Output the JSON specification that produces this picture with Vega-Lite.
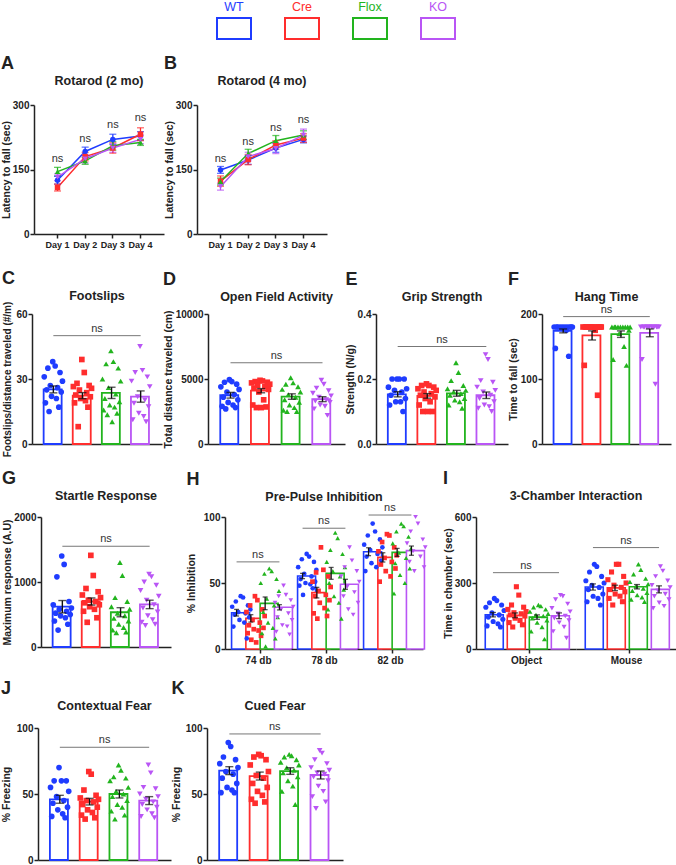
{
"$schema": "https://vega.github.io/schema/vega-lite/v6.json",
"padding": 0,
"background": "white",
"config": {
 "view": {"stroke": null},
 "font": "Liberation Sans",
 "axis": {"domainColor":"#222","domainWidth":1.5,"tickColor":"#222","tickWidth":1.5,"tickSize":4,"labelFont":"Liberation Sans","labelFontSize":10,"labelFontWeight":"bold","labelColor":"#222","labelPadding":1,"labelFlush":false,"titleFont":"Liberation Sans","titleFontSize":10.5,"titleFontWeight":"bold","titleColor":"#222","titlePadding":1,"grid":false},
 "title": {"font":"Liberation Sans","fontSize":12.5,"fontWeight":"bold","color":"#222"}
},
"datasets": {
 "st": [
  {"p":"A","d":"Day 1","g":"WT","m":125,"e":9},{"p":"A","d":"Day 2","g":"WT","m":192,"e":10},{"p":"A","d":"Day 3","g":"WT","m":220,"e":12},{"p":"A","d":"Day 4","g":"WT","m":228,"e":10},
  {"p":"A","d":"Day 1","g":"Cre","m":108,"e":8},{"p":"A","d":"Day 2","g":"Cre","m":180,"e":10},{"p":"A","d":"Day 3","g":"Cre","m":200,"e":12},{"p":"A","d":"Day 4","g":"Cre","m":232,"e":15},
  {"p":"A","d":"Day 1","g":"Flox","m":145,"e":10},{"p":"A","d":"Day 2","g":"Flox","m":170,"e":8},{"p":"A","d":"Day 3","g":"Flox","m":205,"e":10},{"p":"A","d":"Day 4","g":"Flox","m":213,"e":7},
  {"p":"A","d":"Day 1","g":"KO","m":132,"e":8},{"p":"A","d":"Day 2","g":"KO","m":175,"e":10},{"p":"A","d":"Day 3","g":"KO","m":200,"e":10},{"p":"A","d":"Day 4","g":"KO","m":220,"e":10},
  {"p":"B","d":"Day 1","g":"WT","m":149,"e":8},{"p":"B","d":"Day 2","g":"WT","m":172,"e":10},{"p":"B","d":"Day 3","g":"WT","m":200,"e":10},{"p":"B","d":"Day 4","g":"WT","m":220,"e":8},
  {"p":"B","d":"Day 1","g":"Cre","m":123,"e":12},{"p":"B","d":"Day 2","g":"Cre","m":173,"e":12},{"p":"B","d":"Day 3","g":"Cre","m":207,"e":10},{"p":"B","d":"Day 4","g":"Cre","m":223,"e":10},
  {"p":"B","d":"Day 1","g":"Flox","m":122,"e":8},{"p":"B","d":"Day 2","g":"Flox","m":187,"e":10},{"p":"B","d":"Day 3","g":"Flox","m":217,"e":12},{"p":"B","d":"Day 4","g":"Flox","m":230,"e":10},
  {"p":"B","d":"Day 1","g":"KO","m":110,"e":8},{"p":"B","d":"Day 2","g":"KO","m":180,"e":10},{"p":"B","d":"Day 3","g":"KO","m":199,"e":12},{"p":"B","d":"Day 4","g":"KO","m":230,"e":14},
  {"p":"C","g":"WT","m":25.2,"e":1.6},{"p":"C","g":"Cre","m":22.3,"e":1.4},{"p":"C","g":"Flox","m":23.6,"e":2.6},{"p":"C","g":"KO","m":21.9,"e":2.6},
  {"p":"D","g":"WT","m":3750,"e":220},{"p":"D","g":"Cre","m":4100,"e":160},{"p":"D","g":"Flox","m":3650,"e":210},{"p":"D","g":"KO","m":3450,"e":190},
  {"p":"E","g":"WT","m":0.153,"e":0.008},{"p":"E","g":"Cre","m":0.148,"e":0.007},{"p":"E","g":"Flox","m":0.156,"e":0.009},{"p":"E","g":"KO","m":0.150,"e":0.010},
  {"p":"F","g":"WT","m":174,"e":3},{"p":"F","g":"Cre","m":167,"e":7},{"p":"F","g":"Flox","m":169,"e":5},{"p":"F","g":"KO","m":171,"e":6},
  {"p":"G","g":"WT","m":620,"e":95},{"p":"G","g":"Cre","m":700,"e":55},{"p":"G","g":"Flox","m":535,"e":70},{"p":"G","g":"KO","m":655,"e":65},
  {"p":"H74","g":"WT","m":27.5,"e":2.5},{"p":"H74","g":"Cre","m":23.2,"e":2.8},{"p":"H74","g":"Flox","m":34.6,"e":4.8},{"p":"H74","g":"KO","m":31.6,"e":2.0},
  {"p":"H78","g":"WT","m":55.3,"e":2.0},{"p":"H78","g":"Cre","m":42.7,"e":4.0},{"p":"H78","g":"Flox","m":57.3,"e":4.5},{"p":"H78","g":"KO","m":49,"e":3.8},
  {"p":"H82","g":"WT","m":73.7,"e":3},{"p":"H82","g":"Cre","m":69.4,"e":3.5},{"p":"H82","g":"Flox","m":73.2,"e":3},{"p":"H82","g":"KO","m":74.5,"e":3.5},
  {"p":"IO","g":"WT","m":156,"e":10},{"p":"IO","g":"Cre","m":153,"e":11},{"p":"IO","g":"Flox","m":145,"e":10},{"p":"IO","g":"KO","m":151,"e":13},
  {"p":"IM","g":"WT","m":282,"e":14},{"p":"IM","g":"Cre","m":278,"e":12},{"p":"IM","g":"Flox","m":283,"e":10},{"p":"IM","g":"KO","m":271,"e":16},
  {"p":"J","g":"WT","m":46,"e":3},{"p":"J","g":"Cre","m":44.2,"e":2.5},{"p":"J","g":"Flox","m":50,"e":3},{"p":"J","g":"KO","m":45,"e":3},
  {"p":"K","g":"WT","m":67.7,"e":3},{"p":"K","g":"Cre","m":63.6,"e":3},{"p":"K","g":"Flox","m":67.4,"e":2.5},{"p":"K","g":"KO","m":64.4,"e":3}
 ],
 "ns": [
  {"p":"A","d":"Day 1","y":175},{"p":"A","d":"Day 2","y":222},{"p":"A","d":"Day 3","y":253},{"p":"A","d":"Day 4","y":270},
  {"p":"B","d":"Day 1","y":174},{"p":"B","d":"Day 2","y":213},{"p":"B","d":"Day 3","y":246},{"p":"B","d":"Day 4","y":266},
  {"p":"C","y":50},{"p":"D","y":6250},{"p":"E","y":0.30},{"p":"F","y":196},{"p":"G","y":1550},
  {"p":"H74","y":66},{"p":"H78","y":91.5},{"p":"H82","y":101.5},{"p":"IO","y":347},{"p":"IM","y":461},
  {"p":"J","y":85.4},{"p":"K","y":95.5}
 ],
 "pts": [
  {"p":"C","g":"WT","i":1,"v":38},{"p":"C","g":"WT","i":2,"v":36},{"p":"C","g":"WT","i":3,"v":35},{"p":"C","g":"WT","i":4,"v":33},{"p":"C","g":"WT","i":5,"v":31},{"p":"C","g":"WT","i":6,"v":29},{"p":"C","g":"WT","i":7,"v":27},{"p":"C","g":"WT","i":8,"v":26},{"p":"C","g":"WT","i":9,"v":25},{"p":"C","g":"WT","i":10,"v":24},{"p":"C","g":"WT","i":11,"v":22},{"p":"C","g":"WT","i":12,"v":21},{"p":"C","g":"WT","i":13,"v":19},{"p":"C","g":"WT","i":14,"v":17},{"p":"C","g":"WT","i":15,"v":15},
  {"p":"C","g":"Cre","i":1,"v":39},{"p":"C","g":"Cre","i":2,"v":33},{"p":"C","g":"Cre","i":3,"v":28},{"p":"C","g":"Cre","i":4,"v":27},{"p":"C","g":"Cre","i":5,"v":26.5},{"p":"C","g":"Cre","i":6,"v":25.7},{"p":"C","g":"Cre","i":7,"v":24.9},{"p":"C","g":"Cre","i":8,"v":23.7},{"p":"C","g":"Cre","i":9,"v":22.6},{"p":"C","g":"Cre","i":10,"v":21.8},{"p":"C","g":"Cre","i":11,"v":21},{"p":"C","g":"Cre","i":12,"v":20},{"p":"C","g":"Cre","i":13,"v":19},{"p":"C","g":"Cre","i":14,"v":17},{"p":"C","g":"Cre","i":15,"v":8},
  {"p":"C","g":"Flox","i":1,"v":43},{"p":"C","g":"Flox","i":2,"v":38},{"p":"C","g":"Flox","i":3,"v":37},{"p":"C","g":"Flox","i":4,"v":35},{"p":"C","g":"Flox","i":5,"v":30},{"p":"C","g":"Flox","i":6,"v":29},{"p":"C","g":"Flox","i":7,"v":26},{"p":"C","g":"Flox","i":8,"v":23},{"p":"C","g":"Flox","i":9,"v":21},{"p":"C","g":"Flox","i":10,"v":19.5},{"p":"C","g":"Flox","i":11,"v":18},{"p":"C","g":"Flox","i":12,"v":17},{"p":"C","g":"Flox","i":13,"v":15.7},{"p":"C","g":"Flox","i":14,"v":14.2},{"p":"C","g":"Flox","i":15,"v":13.5},{"p":"C","g":"Flox","i":16,"v":10.3},
  {"p":"C","g":"KO","i":1,"v":45},{"p":"C","g":"KO","i":2,"v":34},{"p":"C","g":"KO","i":3,"v":33},{"p":"C","g":"KO","i":4,"v":31},{"p":"C","g":"KO","i":5,"v":29},{"p":"C","g":"KO","i":6,"v":26.5},{"p":"C","g":"KO","i":7,"v":21.8},{"p":"C","g":"KO","i":8,"v":20.3},{"p":"C","g":"KO","i":9,"v":18.8},{"p":"C","g":"KO","i":10,"v":17.2},{"p":"C","g":"KO","i":11,"v":14.2},{"p":"C","g":"KO","i":12,"v":12.7},{"p":"C","g":"KO","i":13,"v":11.2},{"p":"C","g":"KO","i":14,"v":10.3},
  {"p":"D","g":"WT","i":1,"v":4950},{"p":"D","g":"WT","i":2,"v":4800},{"p":"D","g":"WT","i":3,"v":4750},{"p":"D","g":"WT","i":4,"v":4600},{"p":"D","g":"WT","i":5,"v":4400},{"p":"D","g":"WT","i":6,"v":4200},{"p":"D","g":"WT","i":7,"v":4000},{"p":"D","g":"WT","i":8,"v":3800},{"p":"D","g":"WT","i":9,"v":3600},{"p":"D","g":"WT","i":10,"v":3400},{"p":"D","g":"WT","i":11,"v":3200},{"p":"D","g":"WT","i":12,"v":3000},{"p":"D","g":"WT","i":13,"v":2900},{"p":"D","g":"WT","i":14,"v":2800},{"p":"D","g":"WT","i":15,"v":2700},
  {"p":"D","g":"Cre","i":1,"v":4900},{"p":"D","g":"Cre","i":2,"v":4850},{"p":"D","g":"Cre","i":3,"v":4800},{"p":"D","g":"Cre","i":4,"v":4750},{"p":"D","g":"Cre","i":5,"v":4700},{"p":"D","g":"Cre","i":6,"v":4600},{"p":"D","g":"Cre","i":7,"v":4500},{"p":"D","g":"Cre","i":8,"v":4400},{"p":"D","g":"Cre","i":9,"v":4300},{"p":"D","g":"Cre","i":10,"v":4200},{"p":"D","g":"Cre","i":11,"v":4000},{"p":"D","g":"Cre","i":12,"v":3400},{"p":"D","g":"Cre","i":13,"v":3000},{"p":"D","g":"Cre","i":14,"v":2850},{"p":"D","g":"Cre","i":15,"v":2800},{"p":"D","g":"Cre","i":16,"v":2800},
  {"p":"D","g":"Flox","i":1,"v":5100},{"p":"D","g":"Flox","i":2,"v":4700},{"p":"D","g":"Flox","i":3,"v":4600},{"p":"D","g":"Flox","i":4,"v":4400},{"p":"D","g":"Flox","i":5,"v":4200},{"p":"D","g":"Flox","i":6,"v":4000},{"p":"D","g":"Flox","i":7,"v":3800},{"p":"D","g":"Flox","i":8,"v":3600},{"p":"D","g":"Flox","i":9,"v":3400},{"p":"D","g":"Flox","i":10,"v":3200},{"p":"D","g":"Flox","i":11,"v":3000},{"p":"D","g":"Flox","i":12,"v":2800},{"p":"D","g":"Flox","i":13,"v":2600},{"p":"D","g":"Flox","i":14,"v":2500},{"p":"D","g":"Flox","i":15,"v":2500},
  {"p":"D","g":"KO","i":1,"v":4900},{"p":"D","g":"KO","i":2,"v":4600},{"p":"D","g":"KO","i":3,"v":4300},{"p":"D","g":"KO","i":4,"v":4100},{"p":"D","g":"KO","i":5,"v":3900},{"p":"D","g":"KO","i":6,"v":3700},{"p":"D","g":"KO","i":7,"v":3600},{"p":"D","g":"KO","i":8,"v":3400},{"p":"D","g":"KO","i":9,"v":3300},{"p":"D","g":"KO","i":10,"v":3200},{"p":"D","g":"KO","i":11,"v":3000},{"p":"D","g":"KO","i":12,"v":2900},{"p":"D","g":"KO","i":13,"v":2700},{"p":"D","g":"KO","i":14,"v":2200},
  {"p":"E","g":"WT","i":1,"v":0.2},{"p":"E","g":"WT","i":2,"v":0.2},{"p":"E","g":"WT","i":3,"v":0.2},{"p":"E","g":"WT","i":4,"v":0.2},{"p":"E","g":"WT","i":5,"v":0.175},{"p":"E","g":"WT","i":6,"v":0.17},{"p":"E","g":"WT","i":7,"v":0.165},{"p":"E","g":"WT","i":8,"v":0.16},{"p":"E","g":"WT","i":9,"v":0.15},{"p":"E","g":"WT","i":10,"v":0.14},{"p":"E","g":"WT","i":11,"v":0.13},{"p":"E","g":"WT","i":12,"v":0.13},{"p":"E","g":"WT","i":13,"v":0.12},{"p":"E","g":"WT","i":14,"v":0.1},
  {"p":"E","g":"Cre","i":1,"v":0.185},{"p":"E","g":"Cre","i":2,"v":0.18},{"p":"E","g":"Cre","i":3,"v":0.18},{"p":"E","g":"Cre","i":4,"v":0.175},{"p":"E","g":"Cre","i":5,"v":0.17},{"p":"E","g":"Cre","i":6,"v":0.165},{"p":"E","g":"Cre","i":7,"v":0.16},{"p":"E","g":"Cre","i":8,"v":0.155},{"p":"E","g":"Cre","i":9,"v":0.15},{"p":"E","g":"Cre","i":10,"v":0.145},{"p":"E","g":"Cre","i":11,"v":0.14},{"p":"E","g":"Cre","i":12,"v":0.13},{"p":"E","g":"Cre","i":13,"v":0.12},{"p":"E","g":"Cre","i":14,"v":0.1},{"p":"E","g":"Cre","i":15,"v":0.1},{"p":"E","g":"Cre","i":16,"v":0.1},
  {"p":"E","g":"Flox","i":1,"v":0.25},{"p":"E","g":"Flox","i":2,"v":0.22},{"p":"E","g":"Flox","i":3,"v":0.195},{"p":"E","g":"Flox","i":4,"v":0.18},{"p":"E","g":"Flox","i":5,"v":0.17},{"p":"E","g":"Flox","i":6,"v":0.165},{"p":"E","g":"Flox","i":7,"v":0.16},{"p":"E","g":"Flox","i":8,"v":0.155},{"p":"E","g":"Flox","i":9,"v":0.15},{"p":"E","g":"Flox","i":10,"v":0.14},{"p":"E","g":"Flox","i":11,"v":0.135},{"p":"E","g":"Flox","i":12,"v":0.13},{"p":"E","g":"Flox","i":13,"v":0.12},{"p":"E","g":"Flox","i":14,"v":0.11},
  {"p":"E","g":"KO","i":1,"v":0.275},{"p":"E","g":"KO","i":2,"v":0.26},{"p":"E","g":"KO","i":3,"v":0.195},{"p":"E","g":"KO","i":4,"v":0.19},{"p":"E","g":"KO","i":5,"v":0.175},{"p":"E","g":"KO","i":6,"v":0.165},{"p":"E","g":"KO","i":7,"v":0.16},{"p":"E","g":"KO","i":8,"v":0.15},{"p":"E","g":"KO","i":9,"v":0.14},{"p":"E","g":"KO","i":10,"v":0.13},{"p":"E","g":"KO","i":11,"v":0.12},{"p":"E","g":"KO","i":12,"v":0.115},{"p":"E","g":"KO","i":13,"v":0.11},{"p":"E","g":"KO","i":14,"v":0.1},
  {"p":"F","g":"WT","i":1,"v":180},{"p":"F","g":"WT","i":2,"v":180},{"p":"F","g":"WT","i":3,"v":180},{"p":"F","g":"WT","i":4,"v":180},{"p":"F","g":"WT","i":5,"v":180},{"p":"F","g":"WT","i":6,"v":180},{"p":"F","g":"WT","i":7,"v":180},{"p":"F","g":"WT","i":8,"v":180},{"p":"F","g":"WT","i":9,"v":180},{"p":"F","g":"WT","i":10,"v":180},{"p":"F","g":"WT","i":11,"v":178},{"p":"F","g":"WT","i":12,"v":175},{"p":"F","g":"WT","i":13,"v":147},{"p":"F","g":"WT","i":14,"v":135},
  {"p":"F","g":"Cre","i":1,"v":180},{"p":"F","g":"Cre","i":2,"v":180},{"p":"F","g":"Cre","i":3,"v":180},{"p":"F","g":"Cre","i":4,"v":180},{"p":"F","g":"Cre","i":5,"v":180},{"p":"F","g":"Cre","i":6,"v":180},{"p":"F","g":"Cre","i":7,"v":180},{"p":"F","g":"Cre","i":8,"v":180},{"p":"F","g":"Cre","i":9,"v":180},{"p":"F","g":"Cre","i":10,"v":180},{"p":"F","g":"Cre","i":11,"v":180},{"p":"F","g":"Cre","i":12,"v":175},{"p":"F","g":"Cre","i":13,"v":121},{"p":"F","g":"Cre","i":14,"v":75},
  {"p":"F","g":"Flox","i":1,"v":180},{"p":"F","g":"Flox","i":2,"v":180},{"p":"F","g":"Flox","i":3,"v":180},{"p":"F","g":"Flox","i":4,"v":180},{"p":"F","g":"Flox","i":5,"v":180},{"p":"F","g":"Flox","i":6,"v":180},{"p":"F","g":"Flox","i":7,"v":180},{"p":"F","g":"Flox","i":8,"v":180},{"p":"F","g":"Flox","i":9,"v":180},{"p":"F","g":"Flox","i":10,"v":175},{"p":"F","g":"Flox","i":11,"v":170},{"p":"F","g":"Flox","i":12,"v":150},{"p":"F","g":"Flox","i":13,"v":130},{"p":"F","g":"Flox","i":14,"v":121},
  {"p":"F","g":"KO","i":1,"v":180},{"p":"F","g":"KO","i":2,"v":180},{"p":"F","g":"KO","i":3,"v":180},{"p":"F","g":"KO","i":4,"v":180},{"p":"F","g":"KO","i":5,"v":180},{"p":"F","g":"KO","i":6,"v":180},{"p":"F","g":"KO","i":7,"v":180},{"p":"F","g":"KO","i":8,"v":180},{"p":"F","g":"KO","i":9,"v":180},{"p":"F","g":"KO","i":10,"v":180},{"p":"F","g":"KO","i":11,"v":180},{"p":"F","g":"KO","i":12,"v":180},{"p":"F","g":"KO","i":13,"v":130},{"p":"F","g":"KO","i":14,"v":92},
  {"p":"G","g":"WT","i":1,"v":1400},{"p":"G","g":"WT","i":2,"v":1270},{"p":"G","g":"WT","i":3,"v":1080},{"p":"G","g":"WT","i":4,"v":700},{"p":"G","g":"WT","i":5,"v":650},{"p":"G","g":"WT","i":6,"v":600},{"p":"G","g":"WT","i":7,"v":580},{"p":"G","g":"WT","i":8,"v":550},{"p":"G","g":"WT","i":9,"v":520},{"p":"G","g":"WT","i":10,"v":500},{"p":"G","g":"WT","i":11,"v":480},{"p":"G","g":"WT","i":12,"v":450},{"p":"G","g":"WT","i":13,"v":400},{"p":"G","g":"WT","i":14,"v":350},{"p":"G","g":"WT","i":15,"v":260},
  {"p":"G","g":"Cre","i":1,"v":1410},{"p":"G","g":"Cre","i":2,"v":1100},{"p":"G","g":"Cre","i":3,"v":900},{"p":"G","g":"Cre","i":4,"v":850},{"p":"G","g":"Cre","i":5,"v":800},{"p":"G","g":"Cre","i":6,"v":760},{"p":"G","g":"Cre","i":7,"v":720},{"p":"G","g":"Cre","i":8,"v":700},{"p":"G","g":"Cre","i":9,"v":680},{"p":"G","g":"Cre","i":10,"v":650},{"p":"G","g":"Cre","i":11,"v":620},{"p":"G","g":"Cre","i":12,"v":580},{"p":"G","g":"Cre","i":13,"v":550},{"p":"G","g":"Cre","i":14,"v":450},{"p":"G","g":"Cre","i":15,"v":380},
  {"p":"G","g":"Flox","i":1,"v":1300},{"p":"G","g":"Flox","i":2,"v":1100},{"p":"G","g":"Flox","i":3,"v":760},{"p":"G","g":"Flox","i":4,"v":700},{"p":"G","g":"Flox","i":5,"v":620},{"p":"G","g":"Flox","i":6,"v":580},{"p":"G","g":"Flox","i":7,"v":520},{"p":"G","g":"Flox","i":8,"v":480},{"p":"G","g":"Flox","i":9,"v":440},{"p":"G","g":"Flox","i":10,"v":400},{"p":"G","g":"Flox","i":11,"v":350},{"p":"G","g":"Flox","i":12,"v":300},{"p":"G","g":"Flox","i":13,"v":260},{"p":"G","g":"Flox","i":14,"v":230},{"p":"G","g":"Flox","i":15,"v":220},
  {"p":"G","g":"KO","i":1,"v":1120},{"p":"G","g":"KO","i":2,"v":1080},{"p":"G","g":"KO","i":3,"v":1000},{"p":"G","g":"KO","i":4,"v":950},{"p":"G","g":"KO","i":5,"v":870},{"p":"G","g":"KO","i":6,"v":780},{"p":"G","g":"KO","i":7,"v":720},{"p":"G","g":"KO","i":8,"v":650},{"p":"G","g":"KO","i":9,"v":600},{"p":"G","g":"KO","i":10,"v":540},{"p":"G","g":"KO","i":11,"v":480},{"p":"G","g":"KO","i":12,"v":420},{"p":"G","g":"KO","i":13,"v":380},{"p":"G","g":"KO","i":14,"v":350},{"p":"G","g":"KO","i":15,"v":330},
  {"p":"H74","g":"WT","i":1,"v":40},{"p":"H74","g":"WT","i":2,"v":39},{"p":"H74","g":"WT","i":3,"v":36},{"p":"H74","g":"WT","i":4,"v":33},{"p":"H74","g":"WT","i":5,"v":32},{"p":"H74","g":"WT","i":6,"v":30},{"p":"H74","g":"WT","i":7,"v":28},{"p":"H74","g":"WT","i":8,"v":27},{"p":"H74","g":"WT","i":9,"v":26},{"p":"H74","g":"WT","i":10,"v":24},{"p":"H74","g":"WT","i":11,"v":22},{"p":"H74","g":"WT","i":12,"v":20},{"p":"H74","g":"WT","i":13,"v":17},{"p":"H74","g":"WT","i":14,"v":8},
  {"p":"H74","g":"Cre","i":1,"v":40},{"p":"H74","g":"Cre","i":2,"v":37},{"p":"H74","g":"Cre","i":3,"v":33},{"p":"H74","g":"Cre","i":4,"v":30},{"p":"H74","g":"Cre","i":5,"v":28},{"p":"H74","g":"Cre","i":6,"v":25},{"p":"H74","g":"Cre","i":7,"v":22},{"p":"H74","g":"Cre","i":8,"v":20},{"p":"H74","g":"Cre","i":9,"v":18},{"p":"H74","g":"Cre","i":10,"v":16},{"p":"H74","g":"Cre","i":11,"v":15},{"p":"H74","g":"Cre","i":12,"v":14},{"p":"H74","g":"Cre","i":13,"v":12},{"p":"H74","g":"Cre","i":14,"v":10},{"p":"H74","g":"Cre","i":15,"v":7},{"p":"H74","g":"Cre","i":16,"v":5},
  {"p":"H74","g":"Flox","i":1,"v":61},{"p":"H74","g":"Flox","i":2,"v":59},{"p":"H74","g":"Flox","i":3,"v":57},{"p":"H74","g":"Flox","i":4,"v":53},{"p":"H74","g":"Flox","i":5,"v":50},{"p":"H74","g":"Flox","i":6,"v":44},{"p":"H74","g":"Flox","i":7,"v":38},{"p":"H74","g":"Flox","i":8,"v":33},{"p":"H74","g":"Flox","i":9,"v":28},{"p":"H74","g":"Flox","i":10,"v":24},{"p":"H74","g":"Flox","i":11,"v":20},{"p":"H74","g":"Flox","i":12,"v":16},{"p":"H74","g":"Flox","i":13,"v":12},{"p":"H74","g":"Flox","i":14,"v":8},{"p":"H74","g":"Flox","i":15,"v":2},
  {"p":"H74","g":"KO","i":1,"v":48},{"p":"H74","g":"KO","i":2,"v":41},{"p":"H74","g":"KO","i":3,"v":40},{"p":"H74","g":"KO","i":4,"v":37},{"p":"H74","g":"KO","i":5,"v":35},{"p":"H74","g":"KO","i":6,"v":32},{"p":"H74","g":"KO","i":7,"v":30},{"p":"H74","g":"KO","i":8,"v":27},{"p":"H74","g":"KO","i":9,"v":24},{"p":"H74","g":"KO","i":10,"v":22},{"p":"H74","g":"KO","i":11,"v":18},{"p":"H74","g":"KO","i":12,"v":17},{"p":"H74","g":"KO","i":13,"v":13},{"p":"H74","g":"KO","i":14,"v":11},
  {"p":"H78","g":"WT","i":1,"v":72},{"p":"H78","g":"WT","i":2,"v":70},{"p":"H78","g":"WT","i":3,"v":68},{"p":"H78","g":"WT","i":4,"v":66},{"p":"H78","g":"WT","i":5,"v":62},{"p":"H78","g":"WT","i":6,"v":60},{"p":"H78","g":"WT","i":7,"v":57},{"p":"H78","g":"WT","i":8,"v":55},{"p":"H78","g":"WT","i":9,"v":53},{"p":"H78","g":"WT","i":10,"v":51},{"p":"H78","g":"WT","i":11,"v":50},{"p":"H78","g":"WT","i":12,"v":49},{"p":"H78","g":"WT","i":13,"v":48},{"p":"H78","g":"WT","i":14,"v":46},{"p":"H78","g":"WT","i":15,"v":41},
  {"p":"H78","g":"Cre","i":1,"v":77},{"p":"H78","g":"Cre","i":2,"v":60},{"p":"H78","g":"Cre","i":3,"v":58},{"p":"H78","g":"Cre","i":4,"v":55},{"p":"H78","g":"Cre","i":5,"v":51},{"p":"H78","g":"Cre","i":6,"v":47},{"p":"H78","g":"Cre","i":7,"v":44},{"p":"H78","g":"Cre","i":8,"v":41},{"p":"H78","g":"Cre","i":9,"v":40},{"p":"H78","g":"Cre","i":10,"v":37},{"p":"H78","g":"Cre","i":11,"v":35},{"p":"H78","g":"Cre","i":12,"v":31},{"p":"H78","g":"Cre","i":13,"v":27},{"p":"H78","g":"Cre","i":14,"v":25},{"p":"H78","g":"Cre","i":15,"v":23},
  {"p":"H78","g":"Flox","i":1,"v":88},{"p":"H78","g":"Flox","i":2,"v":84},{"p":"H78","g":"Flox","i":3,"v":75},{"p":"H78","g":"Flox","i":4,"v":72},{"p":"H78","g":"Flox","i":5,"v":66},{"p":"H78","g":"Flox","i":6,"v":62},{"p":"H78","g":"Flox","i":7,"v":59},{"p":"H78","g":"Flox","i":8,"v":55},{"p":"H78","g":"Flox","i":9,"v":50},{"p":"H78","g":"Flox","i":10,"v":45},{"p":"H78","g":"Flox","i":11,"v":40},{"p":"H78","g":"Flox","i":12,"v":35},{"p":"H78","g":"Flox","i":13,"v":30},{"p":"H78","g":"Flox","i":14,"v":23},
  {"p":"H78","g":"KO","i":1,"v":77},{"p":"H78","g":"KO","i":2,"v":67},{"p":"H78","g":"KO","i":3,"v":62},{"p":"H78","g":"KO","i":4,"v":59},{"p":"H78","g":"KO","i":5,"v":55},{"p":"H78","g":"KO","i":6,"v":51},{"p":"H78","g":"KO","i":7,"v":47},{"p":"H78","g":"KO","i":8,"v":43},{"p":"H78","g":"KO","i":9,"v":40},{"p":"H78","g":"KO","i":10,"v":35},{"p":"H78","g":"KO","i":11,"v":30},{"p":"H78","g":"KO","i":12,"v":26},
  {"p":"H82","g":"WT","i":1,"v":95},{"p":"H82","g":"WT","i":2,"v":89},{"p":"H82","g":"WT","i":3,"v":86},{"p":"H82","g":"WT","i":4,"v":83},{"p":"H82","g":"WT","i":5,"v":79},{"p":"H82","g":"WT","i":6,"v":77},{"p":"H82","g":"WT","i":7,"v":75},{"p":"H82","g":"WT","i":8,"v":72},{"p":"H82","g":"WT","i":9,"v":70},{"p":"H82","g":"WT","i":10,"v":67},{"p":"H82","g":"WT","i":11,"v":65},{"p":"H82","g":"WT","i":12,"v":62},{"p":"H82","g":"WT","i":13,"v":59},
  {"p":"H82","g":"Cre","i":1,"v":87},{"p":"H82","g":"Cre","i":2,"v":86},{"p":"H82","g":"Cre","i":3,"v":81},{"p":"H82","g":"Cre","i":4,"v":77},{"p":"H82","g":"Cre","i":5,"v":74},{"p":"H82","g":"Cre","i":6,"v":71},{"p":"H82","g":"Cre","i":7,"v":69},{"p":"H82","g":"Cre","i":8,"v":66},{"p":"H82","g":"Cre","i":9,"v":64},{"p":"H82","g":"Cre","i":10,"v":61},{"p":"H82","g":"Cre","i":11,"v":59},{"p":"H82","g":"Cre","i":12,"v":55},{"p":"H82","g":"Cre","i":13,"v":51},
  {"p":"H82","g":"Flox","i":1,"v":95},{"p":"H82","g":"Flox","i":2,"v":93},{"p":"H82","g":"Flox","i":3,"v":89},{"p":"H82","g":"Flox","i":4,"v":85},{"p":"H82","g":"Flox","i":5,"v":80},{"p":"H82","g":"Flox","i":6,"v":76},{"p":"H82","g":"Flox","i":7,"v":73},{"p":"H82","g":"Flox","i":8,"v":69},{"p":"H82","g":"Flox","i":9,"v":65},{"p":"H82","g":"Flox","i":10,"v":61},{"p":"H82","g":"Flox","i":11,"v":56},{"p":"H82","g":"Flox","i":12,"v":50},{"p":"H82","g":"Flox","i":13,"v":42},
  {"p":"H82","g":"KO","i":1,"v":100},{"p":"H82","g":"KO","i":2,"v":95},{"p":"H82","g":"KO","i":3,"v":89},{"p":"H82","g":"KO","i":4,"v":83},{"p":"H82","g":"KO","i":5,"v":80},{"p":"H82","g":"KO","i":6,"v":77},{"p":"H82","g":"KO","i":7,"v":74},{"p":"H82","g":"KO","i":8,"v":70},{"p":"H82","g":"KO","i":9,"v":66},{"p":"H82","g":"KO","i":10,"v":62},{"p":"H82","g":"KO","i":11,"v":59},
  {"p":"IO","g":"WT","i":1,"v":230},{"p":"IO","g":"WT","i":2,"v":220},{"p":"IO","g":"WT","i":3,"v":210},{"p":"IO","g":"WT","i":4,"v":200},{"p":"IO","g":"WT","i":5,"v":190},{"p":"IO","g":"WT","i":6,"v":175},{"p":"IO","g":"WT","i":7,"v":165},{"p":"IO","g":"WT","i":8,"v":155},{"p":"IO","g":"WT","i":9,"v":145},{"p":"IO","g":"WT","i":10,"v":135},{"p":"IO","g":"WT","i":11,"v":125},{"p":"IO","g":"WT","i":12,"v":115},{"p":"IO","g":"WT","i":13,"v":105},{"p":"IO","g":"WT","i":14,"v":100},
  {"p":"IO","g":"Cre","i":1,"v":283},{"p":"IO","g":"Cre","i":2,"v":245},{"p":"IO","g":"Cre","i":3,"v":200},{"p":"IO","g":"Cre","i":4,"v":190},{"p":"IO","g":"Cre","i":5,"v":180},{"p":"IO","g":"Cre","i":6,"v":170},{"p":"IO","g":"Cre","i":7,"v":165},{"p":"IO","g":"Cre","i":8,"v":160},{"p":"IO","g":"Cre","i":9,"v":155},{"p":"IO","g":"Cre","i":10,"v":150},{"p":"IO","g":"Cre","i":11,"v":140},{"p":"IO","g":"Cre","i":12,"v":130},{"p":"IO","g":"Cre","i":13,"v":120},{"p":"IO","g":"Cre","i":14,"v":110},{"p":"IO","g":"Cre","i":15,"v":100},
  {"p":"IO","g":"Flox","i":1,"v":200},{"p":"IO","g":"Flox","i":2,"v":195},{"p":"IO","g":"Flox","i":3,"v":190},{"p":"IO","g":"Flox","i":4,"v":180},{"p":"IO","g":"Flox","i":5,"v":170},{"p":"IO","g":"Flox","i":6,"v":160},{"p":"IO","g":"Flox","i":7,"v":155},{"p":"IO","g":"Flox","i":8,"v":150},{"p":"IO","g":"Flox","i":9,"v":140},{"p":"IO","g":"Flox","i":10,"v":130},{"p":"IO","g":"Flox","i":11,"v":120},{"p":"IO","g":"Flox","i":12,"v":100},{"p":"IO","g":"Flox","i":13,"v":80},{"p":"IO","g":"Flox","i":14,"v":45},
  {"p":"IO","g":"KO","i":1,"v":245},{"p":"IO","g":"KO","i":2,"v":240},{"p":"IO","g":"KO","i":3,"v":225},{"p":"IO","g":"KO","i":4,"v":205},{"p":"IO","g":"KO","i":5,"v":185},{"p":"IO","g":"KO","i":6,"v":170},{"p":"IO","g":"KO","i":7,"v":160},{"p":"IO","g":"KO","i":8,"v":150},{"p":"IO","g":"KO","i":9,"v":140},{"p":"IO","g":"KO","i":10,"v":130},{"p":"IO","g":"KO","i":11,"v":120},{"p":"IO","g":"KO","i":12,"v":100},{"p":"IO","g":"KO","i":13,"v":80},{"p":"IO","g":"KO","i":14,"v":50},
  {"p":"IM","g":"WT","i":1,"v":385},{"p":"IM","g":"WT","i":2,"v":375},{"p":"IM","g":"WT","i":3,"v":350},{"p":"IM","g":"WT","i":4,"v":330},{"p":"IM","g":"WT","i":5,"v":310},{"p":"IM","g":"WT","i":6,"v":300},{"p":"IM","g":"WT","i":7,"v":290},{"p":"IM","g":"WT","i":8,"v":280},{"p":"IM","g":"WT","i":9,"v":270},{"p":"IM","g":"WT","i":10,"v":250},{"p":"IM","g":"WT","i":11,"v":240},{"p":"IM","g":"WT","i":12,"v":230},{"p":"IM","g":"WT","i":13,"v":215},{"p":"IM","g":"WT","i":14,"v":200},
  {"p":"IM","g":"Cre","i":1,"v":385},{"p":"IM","g":"Cre","i":2,"v":385},{"p":"IM","g":"Cre","i":3,"v":350},{"p":"IM","g":"Cre","i":4,"v":330},{"p":"IM","g":"Cre","i":5,"v":315},{"p":"IM","g":"Cre","i":6,"v":300},{"p":"IM","g":"Cre","i":7,"v":290},{"p":"IM","g":"Cre","i":8,"v":280},{"p":"IM","g":"Cre","i":9,"v":270},{"p":"IM","g":"Cre","i":10,"v":260},{"p":"IM","g":"Cre","i":11,"v":250},{"p":"IM","g":"Cre","i":12,"v":240},{"p":"IM","g":"Cre","i":13,"v":230},{"p":"IM","g":"Cre","i":14,"v":215},{"p":"IM","g":"Cre","i":15,"v":200},
  {"p":"IM","g":"Flox","i":1,"v":385},{"p":"IM","g":"Flox","i":2,"v":360},{"p":"IM","g":"Flox","i":3,"v":340},{"p":"IM","g":"Flox","i":4,"v":320},{"p":"IM","g":"Flox","i":5,"v":305},{"p":"IM","g":"Flox","i":6,"v":295},{"p":"IM","g":"Flox","i":7,"v":285},{"p":"IM","g":"Flox","i":8,"v":275},{"p":"IM","g":"Flox","i":9,"v":265},{"p":"IM","g":"Flox","i":10,"v":255},{"p":"IM","g":"Flox","i":11,"v":245},{"p":"IM","g":"Flox","i":12,"v":235},{"p":"IM","g":"Flox","i":13,"v":225},{"p":"IM","g":"Flox","i":14,"v":215},
  {"p":"IM","g":"KO","i":1,"v":375},{"p":"IM","g":"KO","i":2,"v":355},{"p":"IM","g":"KO","i":3,"v":330},{"p":"IM","g":"KO","i":4,"v":310},{"p":"IM","g":"KO","i":5,"v":290},{"p":"IM","g":"KO","i":6,"v":280},{"p":"IM","g":"KO","i":7,"v":265},{"p":"IM","g":"KO","i":8,"v":250},{"p":"IM","g":"KO","i":9,"v":240},{"p":"IM","g":"KO","i":10,"v":225},{"p":"IM","g":"KO","i":11,"v":210},{"p":"IM","g":"KO","i":12,"v":195},{"p":"IM","g":"KO","i":13,"v":185},
  {"p":"J","g":"WT","i":1,"v":70},{"p":"J","g":"WT","i":2,"v":60},{"p":"J","g":"WT","i":3,"v":60},{"p":"J","g":"WT","i":4,"v":60},{"p":"J","g":"WT","i":5,"v":55},{"p":"J","g":"WT","i":6,"v":52},{"p":"J","g":"WT","i":7,"v":48},{"p":"J","g":"WT","i":8,"v":45},{"p":"J","g":"WT","i":9,"v":43},{"p":"J","g":"WT","i":10,"v":40},{"p":"J","g":"WT","i":11,"v":38},{"p":"J","g":"WT","i":12,"v":35},{"p":"J","g":"WT","i":13,"v":33},{"p":"J","g":"WT","i":14,"v":32},
  {"p":"J","g":"Cre","i":1,"v":67},{"p":"J","g":"Cre","i":2,"v":65},{"p":"J","g":"Cre","i":3,"v":53},{"p":"J","g":"Cre","i":4,"v":49},{"p":"J","g":"Cre","i":5,"v":47},{"p":"J","g":"Cre","i":6,"v":46},{"p":"J","g":"Cre","i":7,"v":45},{"p":"J","g":"Cre","i":8,"v":44},{"p":"J","g":"Cre","i":9,"v":42},{"p":"J","g":"Cre","i":10,"v":40},{"p":"J","g":"Cre","i":11,"v":38},{"p":"J","g":"Cre","i":12,"v":36},{"p":"J","g":"Cre","i":13,"v":34},{"p":"J","g":"Cre","i":14,"v":32},{"p":"J","g":"Cre","i":15,"v":31},
  {"p":"J","g":"Flox","i":1,"v":72},{"p":"J","g":"Flox","i":2,"v":68},{"p":"J","g":"Flox","i":3,"v":63},{"p":"J","g":"Flox","i":4,"v":62},{"p":"J","g":"Flox","i":5,"v":60},{"p":"J","g":"Flox","i":6,"v":55},{"p":"J","g":"Flox","i":7,"v":52},{"p":"J","g":"Flox","i":8,"v":50},{"p":"J","g":"Flox","i":9,"v":48},{"p":"J","g":"Flox","i":10,"v":45},{"p":"J","g":"Flox","i":11,"v":42},{"p":"J","g":"Flox","i":12,"v":40},{"p":"J","g":"Flox","i":13,"v":37},{"p":"J","g":"Flox","i":14,"v":34},{"p":"J","g":"Flox","i":15,"v":31},
  {"p":"J","g":"KO","i":1,"v":72},{"p":"J","g":"KO","i":2,"v":66},{"p":"J","g":"KO","i":3,"v":55},{"p":"J","g":"KO","i":4,"v":54},{"p":"J","g":"KO","i":5,"v":50},{"p":"J","g":"KO","i":6,"v":48},{"p":"J","g":"KO","i":7,"v":46},{"p":"J","g":"KO","i":8,"v":44},{"p":"J","g":"KO","i":9,"v":42},{"p":"J","g":"KO","i":10,"v":40},{"p":"J","g":"KO","i":11,"v":38},{"p":"J","g":"KO","i":12,"v":35},{"p":"J","g":"KO","i":13,"v":33},{"p":"J","g":"KO","i":14,"v":32},
  {"p":"K","g":"WT","i":1,"v":89},{"p":"K","g":"WT","i":2,"v":86},{"p":"K","g":"WT","i":3,"v":78},{"p":"K","g":"WT","i":4,"v":76},{"p":"K","g":"WT","i":5,"v":73},{"p":"K","g":"WT","i":6,"v":70},{"p":"K","g":"WT","i":7,"v":67},{"p":"K","g":"WT","i":8,"v":65},{"p":"K","g":"WT","i":9,"v":62},{"p":"K","g":"WT","i":10,"v":58},{"p":"K","g":"WT","i":11,"v":55},{"p":"K","g":"WT","i":12,"v":53},{"p":"K","g":"WT","i":13,"v":51},{"p":"K","g":"WT","i":14,"v":51},
  {"p":"K","g":"Cre","i":1,"v":80},{"p":"K","g":"Cre","i":2,"v":79},{"p":"K","g":"Cre","i":3,"v":78},{"p":"K","g":"Cre","i":4,"v":76},{"p":"K","g":"Cre","i":5,"v":72},{"p":"K","g":"Cre","i":6,"v":67},{"p":"K","g":"Cre","i":7,"v":64},{"p":"K","g":"Cre","i":8,"v":62},{"p":"K","g":"Cre","i":9,"v":58},{"p":"K","g":"Cre","i":10,"v":55},{"p":"K","g":"Cre","i":11,"v":52},{"p":"K","g":"Cre","i":12,"v":49},{"p":"K","g":"Cre","i":13,"v":46},{"p":"K","g":"Cre","i":14,"v":44},{"p":"K","g":"Cre","i":15,"v":43},
  {"p":"K","g":"Flox","i":1,"v":80},{"p":"K","g":"Flox","i":2,"v":79},{"p":"K","g":"Flox","i":3,"v":78},{"p":"K","g":"Flox","i":4,"v":76},{"p":"K","g":"Flox","i":5,"v":74},{"p":"K","g":"Flox","i":6,"v":72},{"p":"K","g":"Flox","i":7,"v":70},{"p":"K","g":"Flox","i":8,"v":68},{"p":"K","g":"Flox","i":9,"v":66},{"p":"K","g":"Flox","i":10,"v":63},{"p":"K","g":"Flox","i":11,"v":60},{"p":"K","g":"Flox","i":12,"v":56},{"p":"K","g":"Flox","i":13,"v":52},{"p":"K","g":"Flox","i":14,"v":42},
  {"p":"K","g":"KO","i":1,"v":83},{"p":"K","g":"KO","i":2,"v":81},{"p":"K","g":"KO","i":3,"v":76},{"p":"K","g":"KO","i":4,"v":73},{"p":"K","g":"KO","i":5,"v":70},{"p":"K","g":"KO","i":6,"v":68},{"p":"K","g":"KO","i":7,"v":66},{"p":"K","g":"KO","i":8,"v":65},{"p":"K","g":"KO","i":9,"v":63},{"p":"K","g":"KO","i":10,"v":60},{"p":"K","g":"KO","i":11,"v":56},{"p":"K","g":"KO","i":12,"v":52},{"p":"K","g":"KO","i":13,"v":48},{"p":"K","g":"KO","i":14,"v":44},{"p":"K","g":"KO","i":15,"v":39}
 ]
},
"columns": 1, "align": "none", "spacing": 10,
"concat": [
 {"spacing":0,"hconcat":[
  {"width":213,"height":21,"data":{"values":[{}]},"mark":{"type":"point","opacity":0,"size":0,"strokeWidth":0},"encoding":{}},
  {"width":238,"height":21,
   "data":{"values":[{"g":"WT"},{"g":"Cre"},{"g":"Flox"},{"g":"KO"}]},
   "layer":[
    {"mark":{"type":"point","shape":"M-1,-0.62H1V0.62H-1Z","size":1156,"filled":false,"strokeWidth":2,"opacity":1},
     "encoding":{"x":{"field":"g","type":"nominal","scale":{"type":"point","domain":["WT","Cre","Flox","KO"],"padding":0.25},"axis":null},
      "color":{"field":"g","type":"nominal","scale":{"domain":["WT","Cre","Flox","KO"],"range":["#1f3cff","#ff2d2d","#22b41e","#b955f5"]},"legend":null}}},
    {"mark":{"type":"text","fontSize":12.5,"dy":-22},
     "encoding":{"x":{"field":"g","type":"nominal"},"text":{"field":"g"},
      "color":{"field":"g","type":"nominal","scale":{"domain":["WT","Cre","Flox","KO"],"range":["#1f3cff","#ff2d2d","#22b41e","#b955f5"]},"legend":null}}}
   ]}
 ]},
 {"columns":1,"align":"none","spacing":20,"concat":[
  {"spacing":0,"hconcat":[
   {"width":1,"height":1,"data":{"values":[{}]},"mark":{"type":"point","opacity":0,"size":0,"strokeWidth":0},"encoding":{}},
   {"spacing":0,"hconcat":[
   {"title":{"text":"A","anchor":"start","frame":"bounds","fontSize":18,"offset":2},"vconcat":[
    {"width":130,"height":129,"title":{"text":"Rotarod (2 mo)","offset":13},
     "layer":[
      {"data":{"name":"st"},"transform":[{"filter":"datum.p=='A'"}],"mark":{"type":"line","strokeWidth":1.5},
       "encoding":{"x":{"field":"d","type":"ordinal","scale":{"domain":["Day 1","Day 2","Day 3","Day 4"],"padding":0.7},"axis":{"title":null,"labelAngle":0,"labelPadding":2,"labelFontSize":9}},
        "y":{"field":"m","type":"quantitative","scale":{"domain":[0,300],"nice":false},"axis":{"values":[0,150,300],"title":"Latency to fall (sec)","minExtent":22,"maxExtent":22}},
        "color":{"field":"g","type":"nominal","scale":{"domain":["WT","Cre","Flox","KO"],"range":["#1f3cff","#ff2d2d","#22b41e","#b955f5"]},"legend":null}}},
      {"data":{"name":"st"},"transform":[{"filter":"datum.p=='A'"}],"mark":{"type":"errorbar","ticks":true,"size":7,"thickness":1.3},
       "encoding":{"x":{"field":"d","type":"ordinal"},"y":{"field":"m","type":"quantitative","title":"Latency to fall (sec)"},"yError":{"field":"e"},
        "color":{"field":"g","type":"nominal","scale":{"domain":["WT","Cre","Flox","KO"],"range":["#1f3cff","#ff2d2d","#22b41e","#b955f5"]},"legend":null}}},
      {"data":{"name":"st"},"transform":[{"filter":"datum.p=='A'"}],"mark":{"type":"point","filled":true,"opacity":1,"size":30},
       "encoding":{"x":{"field":"d","type":"ordinal"},"y":{"field":"m","type":"quantitative"},
        "color":{"field":"g","type":"nominal","scale":{"domain":["WT","Cre","Flox","KO"],"range":["#1f3cff","#ff2d2d","#22b41e","#b955f5"]},"legend":null},
        "shape":{"field":"g","type":"nominal","scale":{"domain":["WT","Cre","Flox","KO"],"range":["circle","square","triangle-up","triangle-down"]},"legend":null}}},
      {"data":{"name":"ns"},"transform":[{"filter":"datum.p=='A'"}],"mark":{"type":"text","text":"ns","fontSize":11,"color":"#333"},
       "encoding":{"x":{"field":"d","type":"ordinal"},"y":{"field":"y","type":"quantitative"}}}
     ]}
   ]},
   {"title":{"text":"B","anchor":"start","frame":"bounds","fontSize":18,"offset":2},"vconcat":[
    {"width":130,"height":129,"title":{"text":"Rotarod (4 mo)","offset":13},
     "layer":[
      {"data":{"name":"st"},"transform":[{"filter":"datum.p=='B'"}],"mark":{"type":"line","strokeWidth":1.5},
       "encoding":{"x":{"field":"d","type":"ordinal","scale":{"domain":["Day 1","Day 2","Day 3","Day 4"],"padding":0.7},"axis":{"title":null,"labelAngle":0,"labelPadding":2,"labelFontSize":9}},
        "y":{"field":"m","type":"quantitative","scale":{"domain":[0,300],"nice":false},"axis":{"values":[0,150,300],"title":"Latency to fall (sec)","minExtent":22,"maxExtent":22}},
        "color":{"field":"g","type":"nominal","scale":{"domain":["WT","Cre","Flox","KO"],"range":["#1f3cff","#ff2d2d","#22b41e","#b955f5"]},"legend":null}}},
      {"data":{"name":"st"},"transform":[{"filter":"datum.p=='B'"}],"mark":{"type":"errorbar","ticks":true,"size":7,"thickness":1.3},
       "encoding":{"x":{"field":"d","type":"ordinal"},"y":{"field":"m","type":"quantitative","title":"Latency to fall (sec)"},"yError":{"field":"e"},
        "color":{"field":"g","type":"nominal","scale":{"domain":["WT","Cre","Flox","KO"],"range":["#1f3cff","#ff2d2d","#22b41e","#b955f5"]},"legend":null}}},
      {"data":{"name":"st"},"transform":[{"filter":"datum.p=='B'"}],"mark":{"type":"point","filled":true,"opacity":1,"size":30},
       "encoding":{"x":{"field":"d","type":"ordinal"},"y":{"field":"m","type":"quantitative"},
        "color":{"field":"g","type":"nominal","scale":{"domain":["WT","Cre","Flox","KO"],"range":["#1f3cff","#ff2d2d","#22b41e","#b955f5"]},"legend":null},
        "shape":{"field":"g","type":"nominal","scale":{"domain":["WT","Cre","Flox","KO"],"range":["circle","square","triangle-up","triangle-down"]},"legend":null}}},
      {"data":{"name":"ns"},"transform":[{"filter":"datum.p=='B'"}],"mark":{"type":"text","text":"ns","fontSize":11,"color":"#333"},
       "encoding":{"x":{"field":"d","type":"ordinal"},"y":{"field":"y","type":"quantitative"}}}
     ]}
   ]}
   ]}
  ]},
  {"columns":1,"align":"none","spacing":12,"concat":[
   {"spacing":0,"hconcat":[
    {"width":1,"height":1,"data":{"values":[{}]},"mark":{"type":"point","opacity":0,"size":0,"strokeWidth":0},"encoding":{}},
    {"spacing":0,"hconcat":[
    {"title":{"text":"C","anchor":"start","frame":"bounds","fontSize":18,"offset":2},"vconcat":[
     {"width":130,"height":130,"title":{"text":"Footslips","offset":-1},
      "layer":[
       {"data":{"name":"st"},"transform":[{"filter":"datum.p=='C'"}],"mark":{"type":"bar","fill":"white","strokeWidth":1.8},
        "encoding":{"x":{"field":"g","type":"nominal","scale":{"domain":["WT","Cre","Flox","KO"],"paddingInner":0.333,"paddingOuter":0.4},"axis":{"title":null,"labels":false,"ticks":false}},
         "y":{"field":"m","type":"quantitative","scale":{"domain":[0,60],"nice":false},"axis":{"values":[0,30,60],"title":"Footslips/distance traveled (#/m)","titleFontSize":10,"minExtent":19,"maxExtent":19}},
         "stroke":{"field":"g","type":"nominal","scale":{"domain":["WT","Cre","Flox","KO"],"range":["#1f3cff","#ff2d2d","#22b41e","#b955f5"]},"legend":null}}},
       {"data":{"name":"pts"},"transform":[{"filter":"datum.p=='C'"}],"mark":{"type":"point","filled":true,"opacity":1,"size":32},
        "encoding":{"x":{"field":"g","type":"nominal"},"xOffset":{"field":"i","type":"nominal","scale":{"domain":[5,13,9,3,15,7,11,1,16,2,12,8,14,4,10,6]}},"y":{"field":"v","type":"quantitative"},
         "color":{"field":"g","type":"nominal","scale":{"domain":["WT","Cre","Flox","KO"],"range":["#1f3cff","#ff2d2d","#22b41e","#b955f5"]},"legend":null},
         "shape":{"field":"g","type":"nominal","scale":{"domain":["WT","Cre","Flox","KO"],"range":["circle","square","triangle-up","triangle-down"]},"legend":null}}},
       {"data":{"name":"st"},"transform":[{"filter":"datum.p=='C'"}],"mark":{"type":"errorbar","ticks":true,"size":8,"thickness":1.4,"color":"#111"},
        "encoding":{"x":{"field":"g","type":"nominal"},"y":{"field":"m","type":"quantitative","title":"Footslips/distance traveled (#/m)"},"yError":{"field":"e"}}},
       {"data":{"name":"ns"},"transform":[{"filter":"datum.p=='C'"}],"mark":{"type":"rule","color":"#777","strokeWidth":1},
        "encoding":{"x":{"datum":"WT","type":"nominal"},"x2":{"datum":"KO"},"y":{"field":"y","type":"quantitative"}}},
       {"data":{"name":"ns"},"transform":[{"filter":"datum.p=='C'"}],"mark":{"type":"text","text":"ns","baseline":"bottom","dy":-2,"dx":14.5,"fontSize":11,"color":"#333"},
        "encoding":{"x":{"datum":"Cre","type":"nominal"},"y":{"field":"y","type":"quantitative"}}}
      ]}
    ]},
    {"title":{"text":"D","anchor":"start","frame":"bounds","fontSize":18,"offset":2},"vconcat":[
     {"width":137,"height":130,"title":{"text":"Open Field Activity","offset":6},
      "layer":[
       {"data":{"name":"st"},"transform":[{"filter":"datum.p=='D'"}],"mark":{"type":"bar","fill":"white","strokeWidth":1.8},
        "encoding":{"x":{"field":"g","type":"nominal","scale":{"domain":["WT","Cre","Flox","KO"],"paddingInner":0.333,"paddingOuter":0.4},"axis":{"title":null,"labels":false,"ticks":false}},
         "y":{"field":"m","type":"quantitative","scale":{"domain":[0,10000],"nice":false},"axis":{"values":[0,5000,10000],"format":"d","title":"Total distance traveled (cm)","minExtent":34,"maxExtent":34}},
         "stroke":{"field":"g","type":"nominal","scale":{"domain":["WT","Cre","Flox","KO"],"range":["#1f3cff","#ff2d2d","#22b41e","#b955f5"]},"legend":null}}},
       {"data":{"name":"pts"},"transform":[{"filter":"datum.p=='D'"}],"mark":{"type":"point","filled":true,"opacity":1,"size":32},
        "encoding":{"x":{"field":"g","type":"nominal"},"xOffset":{"field":"i","type":"nominal","scale":{"domain":[5,13,9,3,15,7,11,1,16,2,12,8,14,4,10,6]}},"y":{"field":"v","type":"quantitative"},
         "color":{"field":"g","type":"nominal","scale":{"domain":["WT","Cre","Flox","KO"],"range":["#1f3cff","#ff2d2d","#22b41e","#b955f5"]},"legend":null},
         "shape":{"field":"g","type":"nominal","scale":{"domain":["WT","Cre","Flox","KO"],"range":["circle","square","triangle-up","triangle-down"]},"legend":null}}},
       {"data":{"name":"st"},"transform":[{"filter":"datum.p=='D'"}],"mark":{"type":"errorbar","ticks":true,"size":8,"thickness":1.4,"color":"#111"},
        "encoding":{"x":{"field":"g","type":"nominal"},"y":{"field":"m","type":"quantitative","title":"Total distance traveled (cm)"},"yError":{"field":"e"}}},
       {"data":{"name":"ns"},"transform":[{"filter":"datum.p=='D'"}],"mark":{"type":"rule","color":"#777","strokeWidth":1},
        "encoding":{"x":{"datum":"WT","type":"nominal"},"x2":{"datum":"KO"},"y":{"field":"y","type":"quantitative"}}},
       {"data":{"name":"ns"},"transform":[{"filter":"datum.p=='D'"}],"mark":{"type":"text","text":"ns","baseline":"bottom","dy":-2,"dx":15.3,"fontSize":11,"color":"#333"},
        "encoding":{"x":{"datum":"Cre","type":"nominal"},"y":{"field":"y","type":"quantitative"}}}
      ]}
    ]},
    {"title":{"text":"E","anchor":"start","frame":"bounds","fontSize":18,"offset":2},"vconcat":[
     {"width":132,"height":130,"title":{"text":"Grip Strength","offset":6},
      "layer":[
       {"data":{"name":"st"},"transform":[{"filter":"datum.p=='E'"}],"mark":{"type":"bar","fill":"white","strokeWidth":1.8},
        "encoding":{"x":{"field":"g","type":"nominal","scale":{"domain":["WT","Cre","Flox","KO"],"paddingInner":0.333,"paddingOuter":0.4},"axis":{"title":null,"labels":false,"ticks":false}},
         "y":{"field":"m","type":"quantitative","scale":{"domain":[0,0.4],"nice":false},"axis":{"values":[0,0.2,0.4],"format":".1f","title":"Strength (N/g)","minExtent":19.5,"maxExtent":19.5}},
         "stroke":{"field":"g","type":"nominal","scale":{"domain":["WT","Cre","Flox","KO"],"range":["#1f3cff","#ff2d2d","#22b41e","#b955f5"]},"legend":null}}},
       {"data":{"name":"pts"},"transform":[{"filter":"datum.p=='E'"}],"mark":{"type":"point","filled":true,"opacity":1,"size":32},
        "encoding":{"x":{"field":"g","type":"nominal"},"xOffset":{"field":"i","type":"nominal","scale":{"domain":[5,13,9,3,15,7,11,1,16,2,12,8,14,4,10,6]}},"y":{"field":"v","type":"quantitative"},
         "color":{"field":"g","type":"nominal","scale":{"domain":["WT","Cre","Flox","KO"],"range":["#1f3cff","#ff2d2d","#22b41e","#b955f5"]},"legend":null},
         "shape":{"field":"g","type":"nominal","scale":{"domain":["WT","Cre","Flox","KO"],"range":["circle","square","triangle-up","triangle-down"]},"legend":null}}},
       {"data":{"name":"st"},"transform":[{"filter":"datum.p=='E'"}],"mark":{"type":"errorbar","ticks":true,"size":8,"thickness":1.4,"color":"#111"},
        "encoding":{"x":{"field":"g","type":"nominal"},"y":{"field":"m","type":"quantitative","title":"Strength (N/g)"},"yError":{"field":"e"}}},
       {"data":{"name":"ns"},"transform":[{"filter":"datum.p=='E'"}],"mark":{"type":"rule","color":"#777","strokeWidth":1},
        "encoding":{"x":{"datum":"WT","type":"nominal"},"x2":{"datum":"KO"},"y":{"field":"y","type":"quantitative"}}},
       {"data":{"name":"ns"},"transform":[{"filter":"datum.p=='E'"}],"mark":{"type":"text","text":"ns","baseline":"bottom","dy":-2,"dx":14.8,"fontSize":11,"color":"#333"},
        "encoding":{"x":{"datum":"Cre","type":"nominal"},"y":{"field":"y","type":"quantitative"}}}
      ]}
    ]},
    {"title":{"text":"F","anchor":"start","frame":"bounds","fontSize":18,"offset":2},"vconcat":[
     {"width":129,"height":130,"title":{"text":"Hang Time","offset":0},
      "layer":[
       {"data":{"name":"st"},"transform":[{"filter":"datum.p=='F'"}],"mark":{"type":"bar","fill":"white","strokeWidth":1.8},
        "encoding":{"x":{"field":"g","type":"nominal","scale":{"domain":["WT","Cre","Flox","KO"],"paddingInner":0.333,"paddingOuter":0.4},"axis":{"title":null,"labels":false,"ticks":false}},
         "y":{"field":"m","type":"quantitative","scale":{"domain":[0,200],"nice":false},"axis":{"values":[0,100,200],"title":"Time to fall (sec)","minExtent":23,"maxExtent":23}},
         "stroke":{"field":"g","type":"nominal","scale":{"domain":["WT","Cre","Flox","KO"],"range":["#1f3cff","#ff2d2d","#22b41e","#b955f5"]},"legend":null}}},
       {"data":{"name":"pts"},"transform":[{"filter":"datum.p=='F'"}],"mark":{"type":"point","filled":true,"opacity":1,"size":32},
        "encoding":{"x":{"field":"g","type":"nominal"},"xOffset":{"field":"i","type":"nominal","scale":{"domain":[5,13,9,3,15,7,11,1,16,2,12,8,14,4,10,6]}},"y":{"field":"v","type":"quantitative"},
         "color":{"field":"g","type":"nominal","scale":{"domain":["WT","Cre","Flox","KO"],"range":["#1f3cff","#ff2d2d","#22b41e","#b955f5"]},"legend":null},
         "shape":{"field":"g","type":"nominal","scale":{"domain":["WT","Cre","Flox","KO"],"range":["circle","square","triangle-up","triangle-down"]},"legend":null}}},
       {"data":{"name":"st"},"transform":[{"filter":"datum.p=='F'"}],"mark":{"type":"errorbar","ticks":true,"size":8,"thickness":1.4,"color":"#111"},
        "encoding":{"x":{"field":"g","type":"nominal"},"y":{"field":"m","type":"quantitative","title":"Time to fall (sec)"},"yError":{"field":"e"}}},
       {"data":{"name":"ns"},"transform":[{"filter":"datum.p=='F'"}],"mark":{"type":"rule","color":"#777","strokeWidth":1},
        "encoding":{"x":{"datum":"WT","type":"nominal"},"x2":{"datum":"KO"},"y":{"field":"y","type":"quantitative"}}},
       {"data":{"name":"ns"},"transform":[{"filter":"datum.p=='F'"}],"mark":{"type":"text","text":"ns","baseline":"bottom","dy":-2,"dx":14.4,"fontSize":11,"color":"#333"},
        "encoding":{"x":{"datum":"Cre","type":"nominal"},"y":{"field":"y","type":"quantitative"}}}
      ]}
    ]}
    ]}
   ]},
   {"columns":1,"align":"none","spacing":13,"concat":[
    {"spacing":0,"hconcat":[
     {"width":1,"height":1,"data":{"values":[{}]},"mark":{"type":"point","opacity":0,"size":0,"strokeWidth":0},"encoding":{}},
     {"spacing":15,"hconcat":[
     {"title":{"text":"G","anchor":"start","frame":"bounds","fontSize":18,"offset":2},"vconcat":[
      {"width":130,"height":130,"title":{"text":"Startle Response","offset":10},
       "layer":[
        {"data":{"name":"st"},"transform":[{"filter":"datum.p=='G'"}],"mark":{"type":"bar","fill":"white","strokeWidth":1.8},
         "encoding":{"x":{"field":"g","type":"nominal","scale":{"domain":["WT","Cre","Flox","KO"],"paddingInner":0.333,"paddingOuter":0.4},"axis":{"title":null,"labels":false,"ticks":false}},
          "y":{"field":"m","type":"quantitative","scale":{"domain":[0,2000],"nice":false},"axis":{"values":[0,1000,2000],"format":"d","title":"Maximum response (A.U)","minExtent":28,"maxExtent":28}},
          "stroke":{"field":"g","type":"nominal","scale":{"domain":["WT","Cre","Flox","KO"],"range":["#1f3cff","#ff2d2d","#22b41e","#b955f5"]},"legend":null}}},
        {"data":{"name":"pts"},"transform":[{"filter":"datum.p=='G'"}],"mark":{"type":"point","filled":true,"opacity":1,"size":32},
         "encoding":{"x":{"field":"g","type":"nominal"},"xOffset":{"field":"i","type":"nominal","scale":{"domain":[5,13,9,3,15,7,11,1,16,2,12,8,14,4,10,6]}},"y":{"field":"v","type":"quantitative"},
          "color":{"field":"g","type":"nominal","scale":{"domain":["WT","Cre","Flox","KO"],"range":["#1f3cff","#ff2d2d","#22b41e","#b955f5"]},"legend":null},
          "shape":{"field":"g","type":"nominal","scale":{"domain":["WT","Cre","Flox","KO"],"range":["circle","square","triangle-up","triangle-down"]},"legend":null}}},
        {"data":{"name":"st"},"transform":[{"filter":"datum.p=='G'"}],"mark":{"type":"errorbar","ticks":true,"size":8,"thickness":1.4,"color":"#111"},
         "encoding":{"x":{"field":"g","type":"nominal"},"y":{"field":"m","type":"quantitative","title":"Maximum response (A.U)"},"yError":{"field":"e"}}},
        {"data":{"name":"ns"},"transform":[{"filter":"datum.p=='G'"}],"mark":{"type":"rule","color":"#777","strokeWidth":1},
         "encoding":{"x":{"datum":"WT","type":"nominal"},"x2":{"datum":"KO"},"y":{"field":"y","type":"quantitative"}}},
        {"data":{"name":"ns"},"transform":[{"filter":"datum.p=='G'"}],"mark":{"type":"text","text":"ns","baseline":"bottom","dy":-2,"dx":14.5,"fontSize":11,"color":"#333"},
         "encoding":{"x":{"datum":"Cre","type":"nominal"},"y":{"field":"y","type":"quantitative"}}}
       ]}
     ]},
     {"title":{"text":"H","anchor":"start","frame":"bounds","fontSize":18,"offset":2},"vconcat":[
      {"spacing":0,"bounds":"flush","hconcat":[
       {"width":66,"height":132,
        "layer":[
         {"data":{"name":"st"},"transform":[{"filter":"datum.p=='H74'"}],"mark":{"type":"bar","fill":"white","strokeWidth":1.6},
          "encoding":{"x":{"field":"g","type":"nominal","scale":{"domain":["WT","Cre","Flox","KO"],"paddingInner":0.3,"paddingOuter":0.46},"axis":{"title":"74 db","labels":false,"values":["Flox"],"bandPosition":0,"titlePadding":2,"titleFontSize":10}},
           "y":{"field":"m","type":"quantitative","scale":{"domain":[0,100],"nice":false},"axis":{"values":[0,50,100],"title":"% Inhibition","minExtent":27.5,"maxExtent":27.5}},
           "stroke":{"field":"g","type":"nominal","scale":{"domain":["WT","Cre","Flox","KO"],"range":["#1f3cff","#ff2d2d","#22b41e","#b955f5"]},"legend":null}}},
         {"data":{"name":"pts"},"transform":[{"filter":"datum.p=='H74'"}],"mark":{"type":"point","filled":true,"opacity":1,"size":22},
          "encoding":{"x":{"field":"g","type":"nominal"},"xOffset":{"field":"i","type":"nominal","scale":{"domain":[5,13,9,3,15,7,11,1,16,2,12,8,14,4,10,6]}},"y":{"field":"v","type":"quantitative"},
           "color":{"field":"g","type":"nominal","scale":{"domain":["WT","Cre","Flox","KO"],"range":["#1f3cff","#ff2d2d","#22b41e","#b955f5"]},"legend":null},
           "shape":{"field":"g","type":"nominal","scale":{"domain":["WT","Cre","Flox","KO"],"range":["circle","square","triangle-up","triangle-down"]},"legend":null}}},
         {"data":{"name":"st"},"transform":[{"filter":"datum.p=='H74'"}],"mark":{"type":"errorbar","ticks":true,"size":5,"thickness":1.3,"color":"#111"},
          "encoding":{"x":{"field":"g","type":"nominal"},"y":{"field":"m","type":"quantitative","title":"% Inhibition"},"yError":{"field":"e"}}},
         {"data":{"name":"ns"},"transform":[{"filter":"datum.p=='H74'"}],"mark":{"type":"rule","color":"#777","strokeWidth":1},
          "encoding":{"x":{"datum":"WT","type":"nominal"},"x2":{"datum":"KO"},"y":{"field":"y","type":"quantitative"}}},
         {"data":{"name":"ns"},"transform":[{"filter":"datum.p=='H74'"}],"mark":{"type":"text","text":"ns","baseline":"bottom","dy":-2,"dx":7,"fontSize":11,"color":"#333"},
          "encoding":{"x":{"datum":"Cre","type":"nominal"},"y":{"field":"y","type":"quantitative"}}}
        ]},
       {"width":66,"height":132,"title":{"text":"Pre-Pulse Inhibition","offset":12},
        "layer":[
         {"data":{"name":"st"},"transform":[{"filter":"datum.p=='H78'"}],"mark":{"type":"bar","fill":"white","strokeWidth":1.6},
          "encoding":{"x":{"field":"g","type":"nominal","scale":{"domain":["WT","Cre","Flox","KO"],"paddingInner":0.3,"paddingOuter":0.46},"axis":{"title":"78 db","labels":false,"values":["Flox"],"bandPosition":0,"titlePadding":2,"titleFontSize":10}},
           "y":{"field":"m","type":"quantitative","scale":{"domain":[0,100],"nice":false},"axis":null},
           "stroke":{"field":"g","type":"nominal","scale":{"domain":["WT","Cre","Flox","KO"],"range":["#1f3cff","#ff2d2d","#22b41e","#b955f5"]},"legend":null}}},
         {"data":{"name":"pts"},"transform":[{"filter":"datum.p=='H78'"}],"mark":{"type":"point","filled":true,"opacity":1,"size":22},
          "encoding":{"x":{"field":"g","type":"nominal"},"xOffset":{"field":"i","type":"nominal","scale":{"domain":[5,13,9,3,15,7,11,1,16,2,12,8,14,4,10,6]}},"y":{"field":"v","type":"quantitative"},
           "color":{"field":"g","type":"nominal","scale":{"domain":["WT","Cre","Flox","KO"],"range":["#1f3cff","#ff2d2d","#22b41e","#b955f5"]},"legend":null},
           "shape":{"field":"g","type":"nominal","scale":{"domain":["WT","Cre","Flox","KO"],"range":["circle","square","triangle-up","triangle-down"]},"legend":null}}},
         {"data":{"name":"st"},"transform":[{"filter":"datum.p=='H78'"}],"mark":{"type":"errorbar","ticks":true,"size":5,"thickness":1.3,"color":"#111"},
          "encoding":{"x":{"field":"g","type":"nominal"},"y":{"field":"m","type":"quantitative"},"yError":{"field":"e"}}},
         {"data":{"name":"ns"},"transform":[{"filter":"datum.p=='H78'"}],"mark":{"type":"rule","color":"#777","strokeWidth":1},
          "encoding":{"x":{"datum":"WT","type":"nominal"},"x2":{"datum":"KO"},"y":{"field":"y","type":"quantitative"}}},
         {"data":{"name":"ns"},"transform":[{"filter":"datum.p=='H78'"}],"mark":{"type":"text","text":"ns","baseline":"bottom","dy":-2,"dx":7,"fontSize":11,"color":"#333"},
          "encoding":{"x":{"datum":"Cre","type":"nominal"},"y":{"field":"y","type":"quantitative"}}}
        ]},
       {"width":66,"height":132,
        "layer":[
         {"data":{"name":"st"},"transform":[{"filter":"datum.p=='H82'"}],"mark":{"type":"bar","fill":"white","strokeWidth":1.6},
          "encoding":{"x":{"field":"g","type":"nominal","scale":{"domain":["WT","Cre","Flox","KO"],"paddingInner":0.3,"paddingOuter":0.46},"axis":{"title":"82 db","labels":false,"values":["Flox"],"bandPosition":0,"titlePadding":2,"titleFontSize":10}},
           "y":{"field":"m","type":"quantitative","scale":{"domain":[0,100],"nice":false},"axis":null},
           "stroke":{"field":"g","type":"nominal","scale":{"domain":["WT","Cre","Flox","KO"],"range":["#1f3cff","#ff2d2d","#22b41e","#b955f5"]},"legend":null}}},
         {"data":{"name":"pts"},"transform":[{"filter":"datum.p=='H82'"}],"mark":{"type":"point","filled":true,"opacity":1,"size":22},
          "encoding":{"x":{"field":"g","type":"nominal"},"xOffset":{"field":"i","type":"nominal","scale":{"domain":[5,13,9,3,15,7,11,1,16,2,12,8,14,4,10,6]}},"y":{"field":"v","type":"quantitative"},
           "color":{"field":"g","type":"nominal","scale":{"domain":["WT","Cre","Flox","KO"],"range":["#1f3cff","#ff2d2d","#22b41e","#b955f5"]},"legend":null},
           "shape":{"field":"g","type":"nominal","scale":{"domain":["WT","Cre","Flox","KO"],"range":["circle","square","triangle-up","triangle-down"]},"legend":null}}},
         {"data":{"name":"st"},"transform":[{"filter":"datum.p=='H82'"}],"mark":{"type":"errorbar","ticks":true,"size":5,"thickness":1.3,"color":"#111"},
          "encoding":{"x":{"field":"g","type":"nominal"},"y":{"field":"m","type":"quantitative"},"yError":{"field":"e"}}},
         {"data":{"name":"ns"},"transform":[{"filter":"datum.p=='H82'"}],"mark":{"type":"rule","color":"#777","strokeWidth":1},
          "encoding":{"x":{"datum":"WT","type":"nominal"},"x2":{"datum":"KO"},"y":{"field":"y","type":"quantitative"}}},
         {"data":{"name":"ns"},"transform":[{"filter":"datum.p=='H82'"}],"mark":{"type":"text","text":"ns","baseline":"bottom","dy":-2,"dx":7,"fontSize":11,"color":"#333"},
          "encoding":{"x":{"datum":"Cre","type":"nominal"},"y":{"field":"y","type":"quantitative"}}}
        ]}
      ]}
     ]},
     {"title":{"text":"I","anchor":"start","frame":"bounds","fontSize":18,"offset":2},"vconcat":[
      {"spacing":0,"bounds":"flush","hconcat":[
       {"width":100,"height":132,"title":{"text":"3-Chamber Interaction","offset":10,"dx":50},
        "layer":[
         {"data":{"name":"st"},"transform":[{"filter":"datum.p=='IO'"}],"mark":{"type":"bar","fill":"white","strokeWidth":1.6},
          "encoding":{"x":{"field":"g","type":"nominal","scale":{"domain":["WT","Cre","Flox","KO"],"paddingInner":0.3,"paddingOuter":0.42},"axis":{"title":"Object","labels":false,"values":["Flox"],"bandPosition":0,"titlePadding":2,"titleFontSize":10}},
           "y":{"field":"m","type":"quantitative","scale":{"domain":[0,600],"nice":false},"axis":{"values":[0,300,600],"title":"Time in chamber (sec)","minExtent":22,"maxExtent":22}},
           "stroke":{"field":"g","type":"nominal","scale":{"domain":["WT","Cre","Flox","KO"],"range":["#1f3cff","#ff2d2d","#22b41e","#b955f5"]},"legend":null}}},
         {"data":{"name":"pts"},"transform":[{"filter":"datum.p=='IO'"}],"mark":{"type":"point","filled":true,"opacity":1,"size":26},
          "encoding":{"x":{"field":"g","type":"nominal"},"xOffset":{"field":"i","type":"nominal","scale":{"domain":[5,13,9,3,15,7,11,1,16,2,12,8,14,4,10,6]}},"y":{"field":"v","type":"quantitative"},
           "color":{"field":"g","type":"nominal","scale":{"domain":["WT","Cre","Flox","KO"],"range":["#1f3cff","#ff2d2d","#22b41e","#b955f5"]},"legend":null},
           "shape":{"field":"g","type":"nominal","scale":{"domain":["WT","Cre","Flox","KO"],"range":["circle","square","triangle-up","triangle-down"]},"legend":null}}},
         {"data":{"name":"st"},"transform":[{"filter":"datum.p=='IO'"}],"mark":{"type":"errorbar","ticks":true,"size":6,"thickness":1.3,"color":"#111"},
          "encoding":{"x":{"field":"g","type":"nominal"},"y":{"field":"m","type":"quantitative","title":"Time in chamber (sec)"},"yError":{"field":"e"}}},
         {"data":{"name":"ns"},"transform":[{"filter":"datum.p=='IO'"}],"mark":{"type":"rule","color":"#777","strokeWidth":1},
          "encoding":{"x":{"datum":"WT","type":"nominal"},"x2":{"datum":"KO"},"y":{"field":"y","type":"quantitative"}}},
         {"data":{"name":"ns"},"transform":[{"filter":"datum.p=='IO'"}],"mark":{"type":"text","text":"ns","baseline":"bottom","dy":-2,"dx":11,"fontSize":11,"color":"#333"},
          "encoding":{"x":{"datum":"Cre","type":"nominal"},"y":{"field":"y","type":"quantitative"}}}
        ]},
       {"width":100,"height":132,
        "layer":[
         {"data":{"name":"st"},"transform":[{"filter":"datum.p=='IM'"}],"mark":{"type":"bar","fill":"white","strokeWidth":1.6},
          "encoding":{"x":{"field":"g","type":"nominal","scale":{"domain":["WT","Cre","Flox","KO"],"paddingInner":0.3,"paddingOuter":0.42},"axis":{"title":"Mouse","labels":false,"values":["Flox"],"bandPosition":0,"titlePadding":2,"titleFontSize":10}},
           "y":{"field":"m","type":"quantitative","scale":{"domain":[0,600],"nice":false},"axis":null},
           "stroke":{"field":"g","type":"nominal","scale":{"domain":["WT","Cre","Flox","KO"],"range":["#1f3cff","#ff2d2d","#22b41e","#b955f5"]},"legend":null}}},
         {"data":{"name":"pts"},"transform":[{"filter":"datum.p=='IM'"}],"mark":{"type":"point","filled":true,"opacity":1,"size":26},
          "encoding":{"x":{"field":"g","type":"nominal"},"xOffset":{"field":"i","type":"nominal","scale":{"domain":[5,13,9,3,15,7,11,1,16,2,12,8,14,4,10,6]}},"y":{"field":"v","type":"quantitative"},
           "color":{"field":"g","type":"nominal","scale":{"domain":["WT","Cre","Flox","KO"],"range":["#1f3cff","#ff2d2d","#22b41e","#b955f5"]},"legend":null},
           "shape":{"field":"g","type":"nominal","scale":{"domain":["WT","Cre","Flox","KO"],"range":["circle","square","triangle-up","triangle-down"]},"legend":null}}},
         {"data":{"name":"st"},"transform":[{"filter":"datum.p=='IM'"}],"mark":{"type":"errorbar","ticks":true,"size":6,"thickness":1.3,"color":"#111"},
          "encoding":{"x":{"field":"g","type":"nominal"},"y":{"field":"m","type":"quantitative"},"yError":{"field":"e"}}},
         {"data":{"name":"ns"},"transform":[{"filter":"datum.p=='IM'"}],"mark":{"type":"rule","color":"#777","strokeWidth":1},
          "encoding":{"x":{"datum":"WT","type":"nominal"},"x2":{"datum":"KO"},"y":{"field":"y","type":"quantitative"}}},
         {"data":{"name":"ns"},"transform":[{"filter":"datum.p=='IM'"}],"mark":{"type":"text","text":"ns","baseline":"bottom","dy":-2,"dx":11,"fontSize":11,"color":"#333"},
          "encoding":{"x":{"datum":"Cre","type":"nominal"},"y":{"field":"y","type":"quantitative"}}}
        ]}
      ]}
     ]}
     ]}
    ]},
    {"spacing":0,"hconcat":[
     {"width":1,"height":1,"data":{"values":[{}]},"mark":{"type":"point","opacity":0,"size":0,"strokeWidth":0},"encoding":{}},
     {"spacing":0,"hconcat":[
     {"title":{"text":"J","anchor":"start","frame":"bounds","fontSize":18,"offset":2},"vconcat":[
      {"width":133,"height":132,"title":{"text":"Contextual Fear","offset":11},
       "layer":[
        {"data":{"name":"st"},"transform":[{"filter":"datum.p=='J'"}],"mark":{"type":"bar","fill":"white","strokeWidth":1.8},
         "encoding":{"x":{"field":"g","type":"nominal","scale":{"domain":["WT","Cre","Flox","KO"],"paddingInner":0.333,"paddingOuter":0.4},"axis":{"title":null,"labels":false,"ticks":false}},
          "y":{"field":"m","type":"quantitative","scale":{"domain":[0,100],"nice":false},"axis":{"values":[0,50,100],"title":"% Freezing","minExtent":26,"maxExtent":26}},
          "stroke":{"field":"g","type":"nominal","scale":{"domain":["WT","Cre","Flox","KO"],"range":["#1f3cff","#ff2d2d","#22b41e","#b955f5"]},"legend":null}}},
        {"data":{"name":"pts"},"transform":[{"filter":"datum.p=='J'"}],"mark":{"type":"point","filled":true,"opacity":1,"size":32},
         "encoding":{"x":{"field":"g","type":"nominal"},"xOffset":{"field":"i","type":"nominal","scale":{"domain":[5,13,9,3,15,7,11,1,16,2,12,8,14,4,10,6]}},"y":{"field":"v","type":"quantitative"},
          "color":{"field":"g","type":"nominal","scale":{"domain":["WT","Cre","Flox","KO"],"range":["#1f3cff","#ff2d2d","#22b41e","#b955f5"]},"legend":null},
          "shape":{"field":"g","type":"nominal","scale":{"domain":["WT","Cre","Flox","KO"],"range":["circle","square","triangle-up","triangle-down"]},"legend":null}}},
        {"data":{"name":"st"},"transform":[{"filter":"datum.p=='J'"}],"mark":{"type":"errorbar","ticks":true,"size":8,"thickness":1.4,"color":"#111"},
         "encoding":{"x":{"field":"g","type":"nominal"},"y":{"field":"m","type":"quantitative","title":"% Freezing"},"yError":{"field":"e"}}},
        {"data":{"name":"ns"},"transform":[{"filter":"datum.p=='J'"}],"mark":{"type":"rule","color":"#777","strokeWidth":1},
         "encoding":{"x":{"datum":"WT","type":"nominal"},"x2":{"datum":"KO"},"y":{"field":"y","type":"quantitative"}}},
        {"data":{"name":"ns"},"transform":[{"filter":"datum.p=='J'"}],"mark":{"type":"text","text":"ns","baseline":"bottom","dy":-2,"dx":15,"fontSize":11,"color":"#333"},
         "encoding":{"x":{"datum":"Cre","type":"nominal"},"y":{"field":"y","type":"quantitative"}}}
       ]}
     ]},
     {"title":{"text":"K","anchor":"start","frame":"bounds","fontSize":18,"offset":2},"vconcat":[
      {"width":136,"height":132,"title":{"text":"Cued Fear","offset":8},
       "layer":[
        {"data":{"name":"st"},"transform":[{"filter":"datum.p=='K'"}],"mark":{"type":"bar","fill":"white","strokeWidth":1.8},
         "encoding":{"x":{"field":"g","type":"nominal","scale":{"domain":["WT","Cre","Flox","KO"],"paddingInner":0.333,"paddingOuter":0.4},"axis":{"title":null,"labels":false,"ticks":false}},
          "y":{"field":"m","type":"quantitative","scale":{"domain":[0,100],"nice":false},"axis":{"values":[0,50,100],"title":"% Freezing","minExtent":24.5,"maxExtent":24.5}},
          "stroke":{"field":"g","type":"nominal","scale":{"domain":["WT","Cre","Flox","KO"],"range":["#1f3cff","#ff2d2d","#22b41e","#b955f5"]},"legend":null}}},
        {"data":{"name":"pts"},"transform":[{"filter":"datum.p=='K'"}],"mark":{"type":"point","filled":true,"opacity":1,"size":32},
         "encoding":{"x":{"field":"g","type":"nominal"},"xOffset":{"field":"i","type":"nominal","scale":{"domain":[5,13,9,3,15,7,11,1,16,2,12,8,14,4,10,6]}},"y":{"field":"v","type":"quantitative"},
          "color":{"field":"g","type":"nominal","scale":{"domain":["WT","Cre","Flox","KO"],"range":["#1f3cff","#ff2d2d","#22b41e","#b955f5"]},"legend":null},
          "shape":{"field":"g","type":"nominal","scale":{"domain":["WT","Cre","Flox","KO"],"range":["circle","square","triangle-up","triangle-down"]},"legend":null}}},
        {"data":{"name":"st"},"transform":[{"filter":"datum.p=='K'"}],"mark":{"type":"errorbar","ticks":true,"size":8,"thickness":1.4,"color":"#111"},
         "encoding":{"x":{"field":"g","type":"nominal"},"y":{"field":"m","type":"quantitative","title":"% Freezing"},"yError":{"field":"e"}}},
        {"data":{"name":"ns"},"transform":[{"filter":"datum.p=='K'"}],"mark":{"type":"rule","color":"#777","strokeWidth":1},
         "encoding":{"x":{"datum":"WT","type":"nominal"},"x2":{"datum":"KO"},"y":{"field":"y","type":"quantitative"}}},
        {"data":{"name":"ns"},"transform":[{"filter":"datum.p=='K'"}],"mark":{"type":"text","text":"ns","baseline":"bottom","dy":-2,"dx":15,"fontSize":11,"color":"#333"},
         "encoding":{"x":{"datum":"Cre","type":"nominal"},"y":{"field":"y","type":"quantitative"}}}
       ]}
     ]}
     ]}
    ]}
   ]}
  ]}
 ]}
]
}
